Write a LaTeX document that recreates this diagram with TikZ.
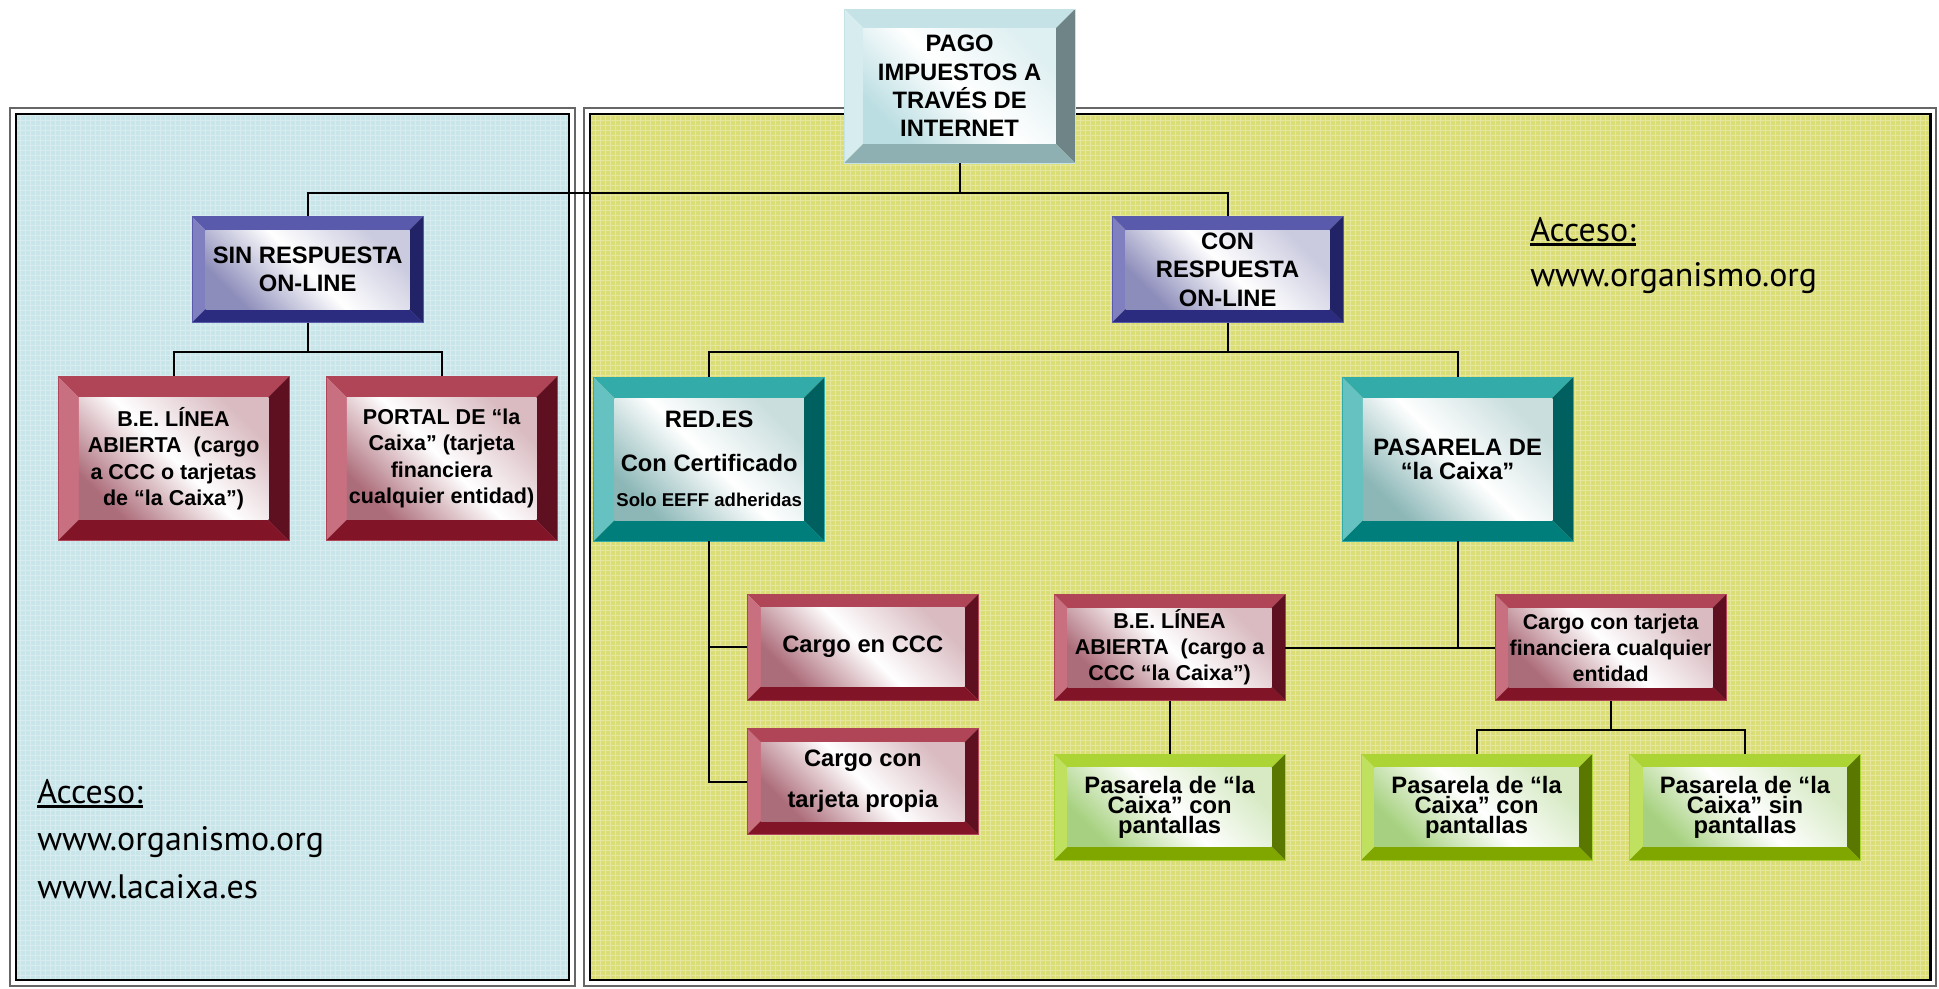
\documentclass[tikz,border=0pt]{standalone}
\usepackage{fontspec}
\setmainfont{Liberation Sans}
\newfontfamily\accfont{PT Sans}
\usetikzlibrary{positioning}

\definecolor{fondoizq}{RGB}{200,229,233}
\definecolor{fondoder}{RGB}{219,221,118}
\definecolor{celsup}{RGB}{197,227,230}
\definecolor{celizq}{RGB}{214,236,238}
\definecolor{celder}{RGB}{110,132,135}
\definecolor{celinf}{RGB}{143,176,179}
\definecolor{celcara}{RGB}{150,204,211}
\definecolor{azsup}{RGB}{90,90,172}
\definecolor{azizq}{RGB}{128,128,192}
\definecolor{azder}{RGB}{34,34,102}
\definecolor{azinf}{RGB}{43,43,128}
\definecolor{azcara}{RGB}{80,80,150}
\definecolor{tursup}{RGB}{51,171,168}
\definecolor{turizq}{RGB}{102,194,192}
\definecolor{turder}{RGB}{0,96,96}
\definecolor{turinf}{RGB}{0,126,124}
\definecolor{turcara}{RGB}{80,145,145}
\definecolor{grasup}{RGB}{176,69,88}
\definecolor{graizq}{RGB}{200,112,128}
\definecolor{grader}{RGB}{95,16,32}
\definecolor{grainf}{RGB}{130,20,40}
\definecolor{gracara}{RGB}{128,30,50}
\definecolor{versup}{RGB}{172,212,52}
\definecolor{verizq}{RGB}{192,224,96}
\definecolor{verder}{RGB}{90,120,0}
\definecolor{verinf}{RGB}{128,166,0}
\definecolor{vercara}{RGB}{120,185,60}

\newcommand{\bisel}{0.34cm}
\newcommand{\letra}[2]{\fontsize{#1}{#2}\selectfont\bfseries}

\begin{document}
\begin{tikzpicture}[on grid, link/.style={line width=1.4pt},
                bisel/.store in=\bisel,
                colores/.style n args={5}{/utils/exec={\def\csup{#1}\def\cizq{#2}\def\cder{#3}\def\cinf{#4}\def\ccara{#5}}, draw=#1, line width=0.4pt},
                celeste/.style={colores={celsup}{celizq}{celder}{celinf}{celcara}},
                azul/.style={colores={azsup}{azizq}{azder}{azinf}{azcara}},
                turquesa/.style={colores={tursup}{turizq}{turder}{turinf}{turcara}},
                granate/.style={colores={grasup}{graizq}{grader}{grainf}{gracara}},
                verde/.style={colores={versup}{verizq}{verder}{verinf}{vercara}},
                caja/.style={inner sep=0pt, align=center, text=black, minimum width=5.775cm, minimum height=2.65cm,
                  bisel=0.34cm, font=\letra{16.9}{20},
                  path picture={
                    \coordinate (sw) at (path picture bounding box.south west);
                    \coordinate (ne) at (path picture bounding box.north east);
                    \coordinate (nw) at (path picture bounding box.north west);
                    \coordinate (se) at (path picture bounding box.south east);
                    \coordinate (isw) at ([shift={(\bisel,\bisel)}]sw);
                    \coordinate (ine) at ([shift={(-\bisel,-\bisel)}]ne);
                    \coordinate (inw) at ([shift={(\bisel,-\bisel)}]nw);
                    \coordinate (ise) at ([shift={(-\bisel,\bisel)}]se);
                    \fill[fill=\csup] (nw) -- (ne) -- (ine) -- (inw) -- cycle;
                    \fill[fill=\cizq] (nw) -- (inw) -- (isw) -- (sw) -- cycle;
                    \fill[fill=\cder] (ne) -- (se) -- (ise) -- (ine) -- cycle;
                    \fill[fill=\cinf] (sw) -- (isw) -- (ise) -- (se) -- cycle;
                    \shade[top color=\ccara!30!white, bottom color=\ccara!65!white, middle color=white, shading angle=-45] (isw) rectangle (ine);
                  }},
                grande/.style={caja, minimum height=4.1cm, bisel=0.52cm},
                acceso/.style={inner sep=0pt, font=\accfont\fontsize{24.1}{30}\selectfont},
                trama/.style={white, opacity=0.3, line width=0.5pt, step=0.125cm},
                marco ext/.style={black!60, line width=1pt},
                marco int/.style={black, line width=2.1pt}]
                \useasboundingbox (0,0) rectangle (48.475,-24.7);

                % paneles
                \fill[white] (0.25,-2.7) rectangle (14.375,-24.65);
                \fill[fondoizq] (0.4,-2.85) rectangle (14.225,-24.5);
                \draw[trama] (0.4,-24.5) grid (14.225,-2.85);
                \draw[marco ext] (0.25,-2.7) rectangle (14.375,-24.65);
                \draw[marco int] (0.4,-2.85) rectangle (14.225,-24.5);
                \fill[white] (14.6,-2.7) rectangle (48.4,-24.65);
                \fill[fondoder] (14.75,-2.85) rectangle (48.25,-24.5);
                \draw[trama] (14.75,-24.5) grid (48.25,-2.85);
                \draw[marco ext] (14.6,-2.7) rectangle (48.4,-24.65);
                \draw[marco int] (14.75,-2.85) rectangle (48.25,-24.5);

                \node[caja, celeste, minimum height=3.85cm, bisel=0.48cm, font=\letra{16.9}{20.1}] (0) at (23.99,-2.15) {PAGO\\IMPUESTOS A\\TRAVÉS DE\\INTERNET};
                \node[caja, azul, below left=4.59cm and 16.3cm of 0] (1) {SIN RESPUESTA\\ON-LINE};
                \node[caja, azul, below right=4.59cm and 6.7cm of 0, font=\letra{16.9}{20.3}] (2) {CON\\RESPUESTA\\ON-LINE};
                \node[grande, granate, below left=4.725cm and 3.35cm of 1, font=\letra{15.3}{18.8}] (11) {B.E. LÍNEA\\ABIERTA\ \ (cargo\\a CCC o tarjetas\\de “la Caixa”)};
                \node[grande, granate, below right=4.725cm and 3.35cm of 1, font=\letra{15.3}{18.8}] (12) {PORTAL DE “la\\Caixa” (tarjeta\\financiera\\cualquier entidad)};
                \node[grande, turquesa, below left=4.74cm and 12.96cm of 2, font=\letra{16.9}{31.3}] (21) {RED.ES\\Con Certificado\\[-6.4pt]{\fontsize{13.2}{16}\selectfont Solo EEFF adheridas}};
                \node[grande, turquesa, below right=4.74cm and 5.75cm of 2, font=\letra{16.9}{17.1}] (22) {PASARELA DE\\“la Caixa”};
                \node[caja, granate, below right=4.7cm and 3.84cm of 21] (211) {Cargo en CCC};
                \node[caja, granate, below=3.36cm of 211, font=\letra{16.9}{29.2}] (212) {Cargo con\\tarjeta propia};
                \node[caja, granate, below left=4.71cm and 7.2cm of 22, font=\letra{15.3}{18.5}] (221) {B.E. LÍNEA\\ABIERTA\ \ (cargo a\\CCC “la Caixa”)};
                \node[caja, granate, below right=4.71cm and 3.825cm of 22, font=\letra{15.2}{18.5}] (222) {Cargo con tarjeta\\financiera cualquier\\entidad};
                \node[caja, verde, below=3.99cm of 221, font=\letra{16.9}{14.2}] (2211) {Pasarela de “la\\Caixa” con\\pantallas};
                \node[caja, verde, below left=3.99cm and 3.35cm of 222, font=\letra{16.9}{14.2}] (2221) {Pasarela de “la\\Caixa” con\\pantallas};
                \node[caja, verde, below right=3.99cm and 3.36cm of 222, font=\letra{16.9}{14.2}] (2222) {Pasarela de “la\\Caixa” sin\\pantallas};

                \draw[link] (0.south) -- ++(0,-0.75) -| (1.north);
                \draw[link] (0.south) -- ++(0,-0.75) -| (2.north);
                \draw[link] (1.south) -- ++(0,-0.725) -| (11.north);
                \draw[link] (1.south) -- ++(0,-0.725) -| (12.north);
                \draw[link] (2.south) -- ++(0,-0.725) -| (21.north);
                \draw[link] (2.south) -- ++(0,-0.725) -| (22.north);
                \draw[link] (21.south) |- (211.west);
                \draw[link] (21.south) |- (212.west);
                \draw[link] (22.south) |- (221.east);
                \draw[link] (22.south) |- (222.west);
                \draw[link] (221.south) -- (2211.north);
                \draw[link] (222.south) -- ++(0,-0.725) -| (2221.north);
                \draw[link] (222.south) -- ++(0,-0.725) -| (2222.north);

                % accesos
                \node[acceso, anchor=base west] (a1) at (38.25,-6.025) {Acceso:};
                \node[acceso, anchor=base west] (a2) at (38.25,-7.15) {www.organismo.org};
                \node[acceso, anchor=base west] (b1) at (0.925,-20.075) {Acceso:};
                \node[acceso, anchor=base west] (b2) at (0.925,-21.25) {www.organismo.org};
                \node[acceso, anchor=base west] (b3) at (0.925,-22.45) {www.lacaixa.es};
                \draw[line width=1.6pt] ([yshift=-2.5pt]a1.base west) -- ([yshift=-2.5pt]a1.base east);
                \draw[line width=1.6pt] ([yshift=-2.5pt]b1.base west) -- ([yshift=-2.5pt]b1.base east);
\end{tikzpicture}
\end{document}
